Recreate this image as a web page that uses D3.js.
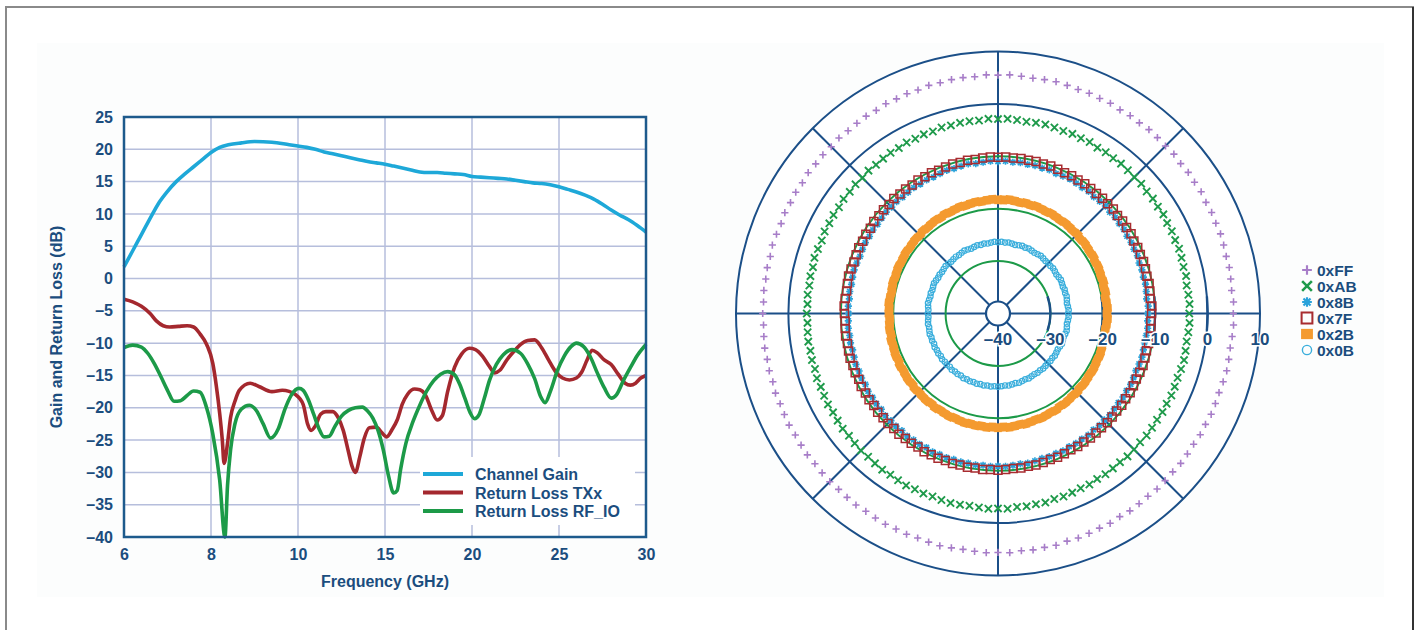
<!DOCTYPE html>
<html>
<head>
<meta charset="utf-8">
<script src="https://cdn.jsdelivr.net/npm/d3@7"></script>
<style>
body { margin:0; background:#fff; }
svg { display:block; }
text { font-family:"Liberation Sans", Arial, sans-serif; font-weight:bold; fill:#1b4d7e; }
</style>
</head>
<body>
<svg id="fig" width="1418" height="630"></svg>
<script>

// ---- left chart : gain / return loss vs frequency ----
var freqTicks = [6, 8, 10, 15, 20, 25, 30];
var dbTicks = [25, 20, 15, 10, 5, 0, -5, -10, -15, -20, -25, -30, -35, -40];

var gainFreq = [6, 6.2, 6.4, 6.6, 6.8, 7, 7.2, 7.4, 7.6, 7.8, 8, 8.2, 8.4, 8.7, 9, 9.4, 9.8, 10, 10.5, 11, 11.5, 12, 12.5, 13, 13.5, 14, 14.5, 15,
  15.5, 16, 16.5, 17, 17.5, 18, 18.5, 19, 19.5, 20, 20.5, 21, 21.5, 22, 22.5, 23, 23.5, 24, 24.5, 25, 25.5, 26, 26.5, 27, 27.5, 28, 28.5, 29, 29.5, 30];
var gainVal = [1.8, 4.3, 6.8, 9.3, 11.7, 13.5, 15.0, 16.2, 17.3, 18.4, 19.5, 20.3, 20.7, 21.0, 21.2, 21.1, 20.7, 20.5, 20.3, 20.0, 19.6, 19.3, 19.0, 18.7, 18.4, 18.1, 17.9, 17.7,
  17.4, 17.1, 16.8, 16.5, 16.4, 16.4, 16.3, 16.2, 16.1, 15.8, 15.7, 15.6, 15.5, 15.4, 15.2, 15.0, 14.8, 14.7, 14.5, 14.2, 13.8, 13.4, 12.9, 12.3, 11.5, 10.6, 9.8, 9.1, 8.2, 7.2];

var txFreq = [6, 6.2, 6.4, 6.6, 6.75, 6.9, 7.05, 7.25, 7.45, 7.6, 7.75, 7.9, 8.04, 8.12, 8.2, 8.26, 8.3, 8.38, 8.45, 8.55, 8.65, 8.9, 9.1, 9.4, 9.64, 9.95,
  10.3, 10.55, 10.75, 11.0, 11.3, 11.6, 12.0, 12.3, 12.6, 12.9, 13.1, 13.3, 13.55, 13.8, 14.1, 14.5, 14.8, 15.1, 15.4, 15.7, 16.0, 16.3, 16.7, 17.0, 17.3, 17.7,
  18.0, 18.3, 18.6, 19.0, 19.4, 19.85, 20.2, 20.6, 21.0, 21.3, 21.6, 22.0, 22.4, 22.8, 23.2, 23.6, 24.0, 24.4, 24.8, 25.2, 25.6, 26.0, 26.3, 26.6, 26.9, 27.2,
  27.6, 28.0, 28.4, 28.8, 29.1, 29.4, 29.7, 30];
var txVal = [-3.2, -3.6, -4.3, -5.4, -6.6, -7.3, -7.5, -7.4, -7.3, -7.5, -8.6, -10.2, -13.1, -16.5, -20.9, -25, -28.6, -25.5, -21.5, -19, -17.3, -16.2, -16.7, -17.5, -17.3, -18,
  -19.5, -22.5, -23.5, -22.8, -21, -20.6, -20.6, -21.5, -23.5, -26.8, -29, -30, -27.6, -24.8, -23.1, -23, -23.8, -24.5, -23.4, -21.9, -19.4, -17.9, -17.1, -17.2, -17.9, -20.5,
  -21.9, -21.2, -17.5, -13.7, -11.7, -10.8, -11, -12, -13.6, -14.6, -14.2, -12.6, -11.3, -10.2, -9.6, -9.5, -10.7, -12.6, -14.4, -15.4, -15.7, -15.4, -14.5, -12.7, -11.1, -11.5,
  -12.6, -13.3, -14.8, -16.2, -16.5, -16.2, -15.4, -15];

var rfFreq = [6, 6.2, 6.4, 6.55, 6.7, 6.85, 7.0, 7.15, 7.3, 7.45, 7.6, 7.75, 7.89, 8.04, 8.2, 8.32, 8.38, 8.45, 8.55, 8.7, 8.88, 9.05, 9.2, 9.37, 9.55, 9.7, 9.85,
  10.05, 10.3, 10.6, 10.9, 11.2, 11.5, 11.8, 12.1, 12.5, 12.9, 13.3, 13.7, 14.0, 14.3, 14.6, 14.9, 15.2, 15.5, 15.7, 15.9, 16.2, 16.6, 17.0, 17.4, 17.8, 18.2, 18.6,
  19.0, 19.3, 19.6, 19.9, 20.15, 20.4, 20.7, 21.0, 21.4, 21.8, 22.3, 22.8, 23.2, 23.6, 23.95, 24.2, 24.5, 24.9, 25.3, 25.7, 26.0, 26.4, 26.8, 27.2, 27.6, 28.0, 28.3,
  28.7, 29.1, 29.5, 30];
var rfVal = [-10.7, -10.3, -10.6, -11.6, -13.2, -15.2, -17.3, -19.0, -18.9, -18.1, -17.4, -17.6, -19.8, -24, -31.2, -40, -32, -26.5, -22.5, -20.2, -19.6, -20.5, -22.5, -24.7, -23.2, -20.2, -18,
  -17, -17.3, -18.8, -21, -23.2, -24.5, -24.4, -23, -21.3, -20.4, -20.0, -19.9, -20.5, -21.6, -23.5, -26.5, -30.5, -33.2, -32.8, -29.5, -25.5, -22.2, -19.6, -17.4, -15.8, -14.8, -14.4,
  -14.9, -16.4, -18.6, -20.8, -21.7, -21.1, -18.6, -15.8, -13.3, -11.8, -11.0, -11.6, -13.2, -15.5, -18.3, -19.2, -17.5, -14.3, -12, -10.5, -10.0, -10.5, -12.1, -14.6, -16.9, -18.5, -18.0,
  -15.8, -13.8, -11.9, -10.2];

var lineNames = ['Channel Gain', 'Return Loss TXx', 'Return Loss RF_IO'];
var lineColors = ['#1ea8d8', '#a4282e', '#1c9a48'];

// ---- right chart : phase constellation, magnitude (dB) per phase state ----
var ringTicks = [-40, -30, -20, -10, 0, 10];
var codes = ['0xFF', '0xAB', '0x8B', '0x7F', '0x2B', '0x0B'];

var magFF = [4.9,5.0,4.8,4.9,5.0,4.9,5.0,5.1,5.0,5.1,5.0,5.2,5.1,5.2,5.1,5.3,5.2,5.3,5.4,5.3,5.4,5.3,5.5,5.4,5.5,5.4,5.5,5.6,5.5,5.4,5.5,5.6,
  5.5,5.6,5.4,5.5,5.5,5.4,5.5,5.3,5.4,5.3,5.4,5.2,5.3,5.2,5.1,5.2,5.0,5.1,5.0,5.1,4.9,5.0,4.9,5.0,4.8,4.9,5.0,4.8,4.9,4.8,4.9,4.8,
  4.9,4.8,4.9,5.0,4.9,5.0,4.9,5.1,5.0,5.1,5.2,5.1,5.2,5.3,5.2,5.3,5.4,5.3,5.4,5.5,5.4,5.5,5.6,5.5,5.6,5.5,5.6,5.7,5.6,5.5,5.6,5.7,
  5.6,5.7,5.5,5.6,5.5,5.6,5.4,5.5,5.4,5.3,5.4,5.2,5.3,5.2,5.1,5.2,5.1,5.0,5.1,5.0,4.9,5.0,4.9,5.0,4.9,4.8,4.9,5.0,4.9,4.8,4.9,5.0];
var magAB = [-3.5,-3.4,-3.5,-3.6,-3.4,-3.5,-3.4,-3.3,-3.4,-3.3,-3.4,-3.2,-3.3,-3.2,-3.3,-3.1,-3.2,-3.1,-3.0,-3.1,-3.0,-3.1,-2.9,-3.0,-2.9,-3.0,-2.9,-2.8,-2.9,-3.0,-2.9,-2.8,
  -2.9,-2.8,-3.0,-2.9,-2.9,-3.0,-2.9,-3.1,-3.0,-3.1,-3.0,-3.2,-3.1,-3.2,-3.3,-3.2,-3.4,-3.3,-3.4,-3.3,-3.5,-3.4,-3.5,-3.4,-3.6,-3.5,-3.4,-3.6,-3.5,-3.6,-3.5,-3.6,
  -3.5,-3.6,-3.5,-3.4,-3.5,-3.4,-3.5,-3.3,-3.4,-3.3,-3.2,-3.3,-3.2,-3.1,-3.2,-3.1,-3.0,-3.1,-3.0,-2.9,-3.0,-2.9,-2.8,-2.9,-2.8,-2.9,-2.8,-2.7,-2.8,-2.9,-2.8,-2.7,
  -2.8,-2.7,-2.9,-2.8,-2.9,-2.8,-3.0,-2.9,-3.0,-3.1,-3.0,-3.2,-3.1,-3.2,-3.3,-3.2,-3.3,-3.4,-3.3,-3.4,-3.5,-3.4,-3.5,-3.4,-3.5,-3.6,-3.5,-3.4,-3.5,-3.6,-3.5,-3.4];
var mag8B = [-11.4,-11.3,-11.5,-11.4,-11.3,-11.4,-11.3,-11.4,-11.2,-11.3,-11.2,-11.3,-11.1,-11.2,-11.1,-11.2,-11.0,-11.1,-11.2,-11.0,-11.1,-11.0,-10.9,-11.0,-11.1,-10.9,-11.0,-10.9,-11.0,-10.9,-11.0,-10.9,
  -11.0,-10.9,-11.0,-11.1,-10.9,-11.0,-11.1,-11.0,-11.1,-11.2,-11.1,-11.2,-11.1,-11.2,-11.3,-11.2,-11.3,-11.2,-11.3,-11.4,-11.3,-11.4,-11.3,-11.4,-11.5,-11.4,-11.3,-11.4,-11.5,-11.4,-11.5,-11.4,
  -11.5,-11.4,-11.3,-11.4,-11.3,-11.4,-11.3,-11.2,-11.3,-11.2,-11.3,-11.1,-11.2,-11.1,-11.2,-11.0,-11.1,-11.0,-11.1,-10.9,-11.0,-10.9,-11.0,-10.8,-10.9,-10.8,-10.9,-10.8,-10.9,-10.8,-10.9,-10.8,
  -10.9,-10.8,-10.9,-11.0,-10.9,-11.0,-11.1,-11.0,-11.1,-11.0,-11.2,-11.1,-11.2,-11.1,-11.3,-11.2,-11.3,-11.2,-11.3,-11.4,-11.3,-11.4,-11.3,-11.4,-11.5,-11.4,-11.3,-11.4,-11.5,-11.4,-11.3,-11.4];
var mag7F = [-10.7,-10.6,-10.8,-10.7,-10.6,-10.7,-10.6,-10.5,-10.6,-10.5,-10.6,-10.4,-10.5,-10.4,-10.5,-10.3,-10.4,-10.3,-10.4,-10.3,-10.2,-10.3,-10.2,-10.3,-10.2,-10.1,-10.2,-10.1,-10.2,-10.1,-10.2,-10.1,
  -10.2,-10.1,-10.2,-10.3,-10.2,-10.3,-10.2,-10.3,-10.4,-10.3,-10.4,-10.3,-10.5,-10.4,-10.5,-10.4,-10.6,-10.5,-10.6,-10.5,-10.7,-10.6,-10.7,-10.6,-10.7,-10.8,-10.7,-10.6,-10.7,-10.8,-10.7,-10.6,
  -10.7,-10.8,-10.7,-10.6,-10.7,-10.6,-10.5,-10.6,-10.5,-10.6,-10.4,-10.5,-10.4,-10.5,-10.3,-10.4,-10.3,-10.4,-10.2,-10.3,-10.2,-10.3,-10.1,-10.2,-10.1,-10.2,-10.1,-10.2,-10.1,-10.2,-10.1,-10.2,
  -10.1,-10.2,-10.3,-10.2,-10.3,-10.2,-10.3,-10.4,-10.3,-10.4,-10.5,-10.4,-10.5,-10.4,-10.5,-10.6,-10.5,-10.6,-10.7,-10.6,-10.7,-10.6,-10.7,-10.8,-10.7,-10.6,-10.7,-10.8,-10.7,-10.6,-10.7,-10.8];
var mag2B = [-19.2,-19.1,-19.2,-19.3,-19.1,-19.2,-19.0,-19.1,-19.0,-18.9,-19.0,-18.8,-18.9,-18.8,-18.7,-18.8,-18.6,-18.7,-18.6,-18.5,-18.6,-18.5,-18.4,-18.5,-18.4,-18.3,-18.4,-18.3,-18.4,-18.3,-18.2,-18.3,
  -18.3,-18.2,-18.3,-18.4,-18.3,-18.4,-18.5,-18.4,-18.5,-18.6,-18.5,-18.7,-18.6,-18.7,-18.8,-18.7,-18.9,-18.8,-18.9,-19.0,-18.9,-19.0,-19.1,-19.0,-19.1,-19.2,-19.1,-19.2,-19.3,-19.2,-19.1,-19.2,
  -19.2,-19.3,-19.2,-19.1,-19.2,-19.0,-19.1,-19.0,-18.9,-19.0,-18.8,-18.9,-18.8,-18.7,-18.8,-18.6,-18.7,-18.6,-18.5,-18.6,-18.4,-18.5,-18.4,-18.3,-18.4,-18.3,-18.2,-18.3,-18.2,-18.3,-18.2,-18.3,
  -18.2,-18.3,-18.2,-18.3,-18.4,-18.3,-18.4,-18.5,-18.4,-18.5,-18.6,-18.5,-18.7,-18.6,-18.7,-18.8,-18.7,-18.9,-18.8,-18.9,-19.0,-18.9,-19.0,-19.1,-19.0,-19.1,-19.2,-19.1,-19.2,-19.3,-19.2,-19.1];
var mag0B = [-26.6,-26.5,-26.6,-26.7,-26.6,-26.5,-26.6,-26.5,-26.6,-26.5,-26.4,-26.5,-26.6,-26.5,-26.4,-26.5,-26.4,-26.5,-26.4,-26.3,-26.4,-26.5,-26.4,-26.3,-26.4,-26.3,-26.4,-26.5,-26.4,-26.3,-26.4,-26.3,
  -26.4,-26.3,-26.4,-26.5,-26.4,-26.5,-26.4,-26.5,-26.6,-26.5,-26.4,-26.5,-26.6,-26.5,-26.6,-26.7,-26.6,-26.5,-26.6,-26.7,-26.6,-26.7,-26.6,-26.5,-26.6,-26.7,-26.6,-26.7,-26.6,-26.5,-26.6,-26.7,
  -26.6,-26.7,-26.6,-26.5,-26.6,-26.5,-26.4,-26.5,-26.4,-26.5,-26.3,-26.4,-26.3,-26.4,-26.2,-26.3,-26.2,-26.3,-26.1,-26.2,-26.1,-26.2,-26.0,-26.1,-26.0,-26.1,-26.0,-26.1,-26.0,-26.1,-26.0,-26.1,
  -26.0,-26.1,-26.2,-26.1,-26.2,-26.3,-26.2,-26.3,-26.4,-26.3,-26.4,-26.5,-26.4,-26.5,-26.4,-26.5,-26.6,-26.5,-26.6,-26.5,-26.6,-26.7,-26.6,-26.5,-26.6,-26.7,-26.6,-26.5,-26.6,-26.7,-26.6,-26.5];

var polarMags = [magFF, magAB, mag8B, mag7F, mag2B, mag0B];


var svg = d3.select('#fig');
var navy = '#1b4d7e';
var fmtDb = function (d) { return d < 0 ? '\u2013' + (-d) : String(d); };

// page frame + faint panel
svg.append('rect').attr('x', 37).attr('y', 43).attr('width', 1347).attr('height', 554).attr('fill', '#fcfdfd');
svg.append('rect').attr('x', 6).attr('y', 7).attr('width', 1407).attr('height', 640)
  .attr('fill', 'none').attr('stroke', '#8a8a8a').attr('stroke-width', 2);
svg.append('line').attr('x1', 1413).attr('x2', 1413).attr('y1', 7).attr('y2', 630)
  .attr('stroke', '#333').attr('stroke-width', 2);

/* ---------- left chart ---------- */
var plotL = 124, plotR = 646, plotT = 117, plotB = 537;

var x = d3.scaleLinear()
  .domain(freqTicks)
  .range(freqTicks.map(function (d, i) { return plotL + i * (plotR - plotL) / (freqTicks.length - 1); }));
var y = d3.scaleLinear().domain([-40, 25]).range([plotB, plotT]);

var left = svg.append('g');
left.append('rect').attr('x', plotL).attr('y', plotT).attr('width', plotR - plotL).attr('height', plotB - plotT).attr('fill', '#fff');

// grid
left.append('g').selectAll('line').data(dbTicks.slice(1, -1)).enter().append('line')
  .attr('x1', plotL).attr('x2', plotR).attr('y1', y).attr('y2', y)
  .attr('stroke', '#b6bedc').attr('stroke-width', 1.5);
left.append('g').selectAll('line').data(freqTicks.slice(1, -1)).enter().append('line')
  .attr('y1', plotT).attr('y2', plotB).attr('x1', x).attr('x2', x)
  .attr('stroke', '#b6bedc').attr('stroke-width', 1.5);

// curves
var line = d3.line().x(function (d) { return x(d[0]); }).y(function (d) { return y(d[1]); }).curve(d3.curveMonotoneX);
var series = [d3.zip(gainFreq, gainVal), d3.zip(txFreq, txVal), d3.zip(rfFreq, rfVal)];
left.append('g').selectAll('path').data(series).enter().append('path')
  .attr('d', line).attr('fill', 'none')
  .attr('stroke', function (d, i) { return lineColors[i]; })
  .attr('stroke-width', 3.6).attr('stroke-linejoin', 'round');

// legend
var lg = left.append('g');
lg.append('rect').attr('x', 420).attr('y', 457).attr('width', 215).attr('height', 68).attr('fill', '#fff');
lineNames.forEach(function (name, i) {
  var ly = 474 + i * 18.5;
  lg.append('line').attr('x1', 423).attr('x2', 463).attr('y1', ly).attr('y2', ly)
    .attr('stroke', lineColors[i]).attr('stroke-width', 4);
  lg.append('text').attr('x', 475).attr('y', ly + 6).attr('font-size', 16).text(name);
});

// frame & axes
left.append('rect').attr('x', plotL).attr('y', plotT).attr('width', plotR - plotL).attr('height', plotB - plotT)
  .attr('fill', 'none').attr('stroke', '#1d5a8c').attr('stroke-width', 2.5);

var yAxis = left.append('g').attr('transform', 'translate(' + plotL + ',0)')
  .call(d3.axisLeft(y).tickValues(dbTicks).tickSize(0).tickPadding(11).tickFormat(fmtDb));
var xAxis = left.append('g').attr('transform', 'translate(0,' + plotB + ')')
  .call(d3.axisBottom(x).tickValues(freqTicks).tickSize(0).tickPadding(12));
[yAxis, xAxis].forEach(function (a) {
  a.select('.domain').remove();
  a.selectAll('text').attr('font-size', 16).attr('font-family', null).attr('fill', navy);
});

left.append('text').attr('transform', 'translate(62,327) rotate(-90)')
  .attr('text-anchor', 'middle').attr('font-size', 16).text('Gain and Return Loss (dB)');
left.append('text').attr('x', 385).attr('y', 587)
  .attr('text-anchor', 'middle').attr('font-size', 16).text('Frequency (GHz)');

/* ---------- right chart (polar) ---------- */
var cx = 998, cy = 313.5, hubR = 12;
var r = d3.scaleLinear().domain([-40, 10]).range([0, 262]);
var pol = svg.append('g').attr('transform', 'translate(' + cx + ',' + cy + ')');
var blue = '#1b4f88';

pol.append('circle').attr('r', r(10)).attr('fill', '#fff');

// spokes
pol.append('g').selectAll('line').data(d3.range(0, 360, 45)).enter().append('line')
  .attr('x1', function (a) { return hubR * Math.cos(a * Math.PI / 180); })
  .attr('y1', function (a) { return hubR * Math.sin(a * Math.PI / 180); })
  .attr('x2', function (a) { return r(10) * Math.cos(a * Math.PI / 180); })
  .attr('y2', function (a) { return r(10) * Math.sin(a * Math.PI / 180); })
  .attr('stroke', blue).attr('stroke-width', 2);

// rings
pol.append('g').selectAll('circle').data(ringTicks.slice(1)).enter().append('circle')
  .attr('r', r).attr('fill', 'none')
  .attr('stroke', function (d) { return d >= 0 ? blue : '#1c9a48'; })
  .attr('stroke-width', 2);
pol.append('circle').attr('r', hubR).attr('fill', '#fff').attr('stroke', blue).attr('stroke-width', 2.2);

// tick arcs on the 0 deg axis
var tickArc = d3.arc().innerRadius(function (d) { return r(d); }).outerRadius(function (d) { return r(d); })
  .startAngle(function (d) { return Math.PI / 2 - Math.asin(17 / r(d)); })
  .endAngle(function (d) { return Math.PI / 2 + Math.asin(17 / r(d)); });
pol.append('g').selectAll('path').data(ringTicks.slice(1, -1)).enter().append('path')
  .attr('d', tickArc).attr('fill', 'none').attr('stroke', blue).attr('stroke-width', 2.4);

// markers
var markerPaths = [
  'M-3.6,0H3.6M0,-3.6V3.6',
  'M-3.6,-3.6L3.6,3.6M-3.6,3.6L3.6,-3.6',
  'M-3.6,0H3.6M0,-3.6V3.6M-2.6,-2.6L2.6,2.6M-2.6,2.6L2.6,-2.6',
  'M-4,-4H4V4H-4Z',
  'M-4.4,-3.8H4.4V3.8H-4.4Z',
  null
];
var markerStroke = ['#a77dc8', '#1e9a4a', '#2aa2da', '#a82c30', 'none', '#3aaedc'];
var markerFill = ['none', 'none', 'none', 'none', '#f49a2f', 'none'];
var markerWidth = [1.6, 1.9, 1.6, 1.5, 0, 1.2];

var angle = function (i, n) { return i / n * 2 * Math.PI; };

polarMags.forEach(function (mags, s) {
  var g = pol.append('g');
  var pts = g.selectAll('g').data(mags).enter().append('g')
    .attr('transform', function (v, i) {
      var a = angle(i, mags.length);
      var px = r(v) * Math.cos(a), py = -r(v) * Math.sin(a);
      var rot = s === 4 ? -a * 180 / Math.PI : 0;
      return 'translate(' + px.toFixed(2) + ',' + py.toFixed(2) + ') rotate(' + rot.toFixed(1) + ')';
    });
  if (markerPaths[s]) {
    pts.append('path').attr('d', markerPaths[s]).attr('fill', markerFill[s])
      .attr('stroke', markerStroke[s]).attr('stroke-width', markerWidth[s]);
  } else {
    pts.append('circle').attr('r', 2.7).attr('fill', 'none')
      .attr('stroke', markerStroke[s]).attr('stroke-width', markerWidth[s]);
  }
});

// ring labels
pol.append('g').selectAll('text').data(ringTicks).enter().append('text')
  .attr('x', function (d) { return r(d); }).attr('y', 31)
  .attr('text-anchor', 'middle').attr('font-size', 17)
  .attr('stroke', '#fff').attr('stroke-width', 3).attr('paint-order', 'stroke')
  .text(fmtDb);

// legend
var pleg = svg.append('g').attr('transform', 'translate(1307,270)');
codes.forEach(function (c, i) {
  var row = pleg.append('g').attr('transform', 'translate(0,' + (i * 16) + ')');
  if (markerPaths[i]) {
    row.append('path').attr('d', markerPaths[i]).attr('transform', 'scale(1.35)')
      .attr('fill', markerFill[i]).attr('stroke', markerStroke[i]).attr('stroke-width', markerWidth[i]);
  } else {
    row.append('circle').attr('r', 4.6).attr('fill', 'none').attr('stroke', markerStroke[i]).attr('stroke-width', 1.4);
  }
  row.append('text').attr('x', 10).attr('y', 6).attr('font-size', 15.5).text(c);
});
</script>
</body>
</html>
